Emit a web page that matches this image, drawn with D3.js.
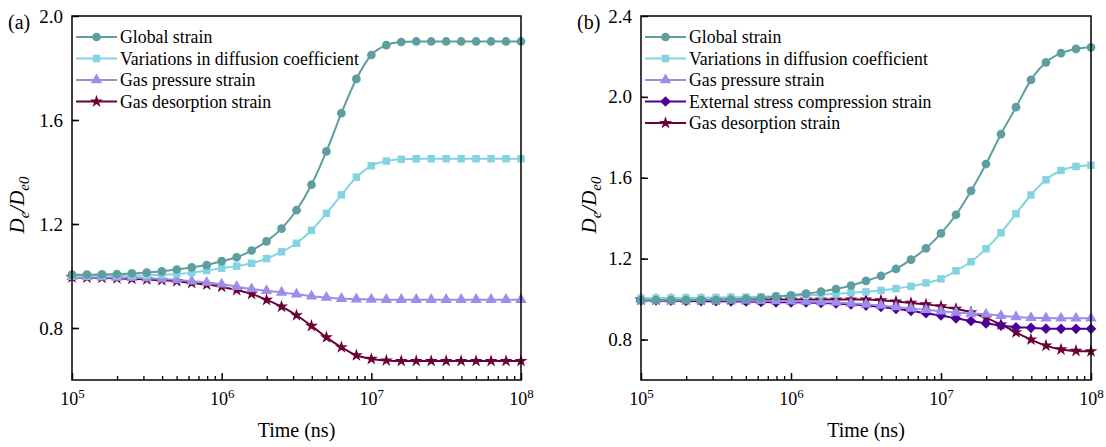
<!DOCTYPE html>
<html>
<head>
<meta charset="utf-8">
<script src="https://cdn.jsdelivr.net/npm/d3@7"></script>
<style>
  body { margin: 0; background: #fff; }
</style>
</head>
<body>
<div id="chart"></div>
<script>
// time grid, exponent of 10 (ns)
var exps = [5.0, 5.1, 5.2, 5.3, 5.4, 5.5, 5.6, 5.7, 5.8, 5.9,
            6.0, 6.1, 6.2, 6.3, 6.4, 6.5, 6.6, 6.7, 6.8, 6.9,
            7.0, 7.1, 7.2, 7.3, 7.4, 7.5, 7.6, 7.7, 7.8, 7.9, 8.0];

// panel (a)
var aGlobal = [1.005,1.005,1.006,1.007,1.010,1.013,1.018,1.025,1.033,1.042,1.057,1.072,1.098,1.133,1.182,1.253,1.351,1.479,1.626,1.758,1.850,1.888,1.900,1.902,1.902,1.902,1.902,1.902,1.902,1.902,1.902];
var aDiff   = [1.000,1.000,1.001,1.001,1.002,1.003,1.005,1.008,1.013,1.021,1.030,1.038,1.049,1.067,1.093,1.126,1.176,1.241,1.312,1.380,1.424,1.442,1.449,1.451,1.451,1.451,1.451,1.451,1.451,1.451,1.451];
var aPress  = [0.997,0.996,0.995,0.994,0.993,0.991,0.988,0.985,0.980,0.975,0.968,0.959,0.950,0.943,0.937,0.930,0.922,0.917,0.913,0.911,0.910,0.909,0.909,0.909,0.909,0.909,0.909,0.909,0.909,0.909,0.909];
var aDes    = [0.995,0.994,0.993,0.991,0.989,0.987,0.984,0.980,0.973,0.967,0.959,0.946,0.931,0.908,0.882,0.849,0.808,0.764,0.726,0.695,0.681,0.675,0.673,0.673,0.673,0.673,0.673,0.673,0.673,0.673,0.673];

// panel (b)
var bGlobal = [0.995,0.995,0.995,0.995,0.995,0.995,0.998,1.001,1.006,1.013,1.019,1.027,1.037,1.050,1.067,1.090,1.115,1.149,1.195,1.251,1.325,1.417,1.535,1.668,1.816,1.949,2.084,2.171,2.216,2.237,2.245];
var bDiff   = [1.005,1.005,1.006,1.006,1.007,1.008,1.009,1.010,1.012,1.014,1.017,1.019,1.022,1.026,1.031,1.036,1.043,1.052,1.063,1.080,1.100,1.140,1.185,1.249,1.328,1.422,1.515,1.590,1.636,1.656,1.662];
var bPress  = [0.998,0.998,0.997,0.997,0.996,0.995,0.994,0.993,0.992,0.991,0.990,0.988,0.986,0.983,0.979,0.974,0.968,0.961,0.954,0.947,0.940,0.934,0.929,0.925,0.918,0.912,0.908,0.906,0.905,0.905,0.905];
var bExt    = [0.993,0.993,0.992,0.991,0.990,0.990,0.989,0.988,0.986,0.984,0.984,0.983,0.981,0.978,0.974,0.968,0.961,0.952,0.942,0.930,0.919,0.905,0.892,0.880,0.869,0.861,0.858,0.854,0.853,0.853,0.853];
var bDes    = [0.997,0.997,0.997,0.997,0.997,0.997,0.998,0.998,0.998,0.998,0.998,0.998,0.998,0.998,0.998,0.998,0.994,0.988,0.981,0.974,0.964,0.952,0.935,0.907,0.874,0.836,0.800,0.770,0.751,0.744,0.742];

var xTicks = [1e5, 1e6, 1e7, 1e8];
var aYTicks = [0.8, 1.2, 1.6, 2.0];
var bYTicks = [0.8, 1.2, 1.6, 2.0, 2.4];

var names = {
  global: "Global strain",
  diff: "Variations in diffusion coefficient",
  press: "Gas pressure strain",
  ext: "External stress compression strain",
  des: "Gas desorption strain"
};
var styles = {
  global: {color: "#5f9ea0", sym: d3.symbolCircle, size: 60},
  diff:   {color: "#84d3e2", sym: d3.symbolSquare, size: 56},
  press:  {color: "#9d8ce8", sym: d3.symbolTriangle, size: 56},
  ext:    {color: "#4b0096", sym: d3.symbolDiamond2, size: 72},
  des:    {color: "#6b0038", sym: d3.symbolStar, size: 52}
};
var FONT = "Liberation Serif";

var svg = d3.select("#chart").append("svg").attr("width", 1106).attr("height", 447)
  .attr("font-family", FONT);

function panel(opt) {
  var x = d3.scaleLog().domain([1e5, 1e8]).range([opt.left, opt.right]);
  var y = d3.scaleLinear().domain(opt.yDomain).range([380, 16]);
  var g = svg.append("g");

  // series, drawn so Global ends on top
  opt.series.slice().reverse().forEach(function(s) {
    var st = styles[s.key];
    var pts = exps.map(function(e, i) { return [Math.pow(10, e), s.values[i]]; });
    g.append("path")
      .attr("d", d3.line().curve(d3.curveMonotoneX).x(function(d){return x(d[0]);}).y(function(d){return y(d[1]);})(pts))
      .attr("fill", "none").attr("stroke", st.color).attr("stroke-width", 2);
    g.selectAll(null).data(pts).enter().append("path")
      .attr("d", d3.symbol().type(st.sym).size(st.size))
      .attr("transform", function(d){return "translate(" + x(d[0]) + "," + y(d[1]) + ")";})
      .attr("fill", st.color);
  });

  // frame
  g.append("rect").attr("x", opt.left).attr("y", 16).attr("width", opt.right - opt.left).attr("height", 364)
    .attr("fill", "none").attr("stroke", "#000").attr("stroke-width", 1.5);

  // x axis: minor ticks
  var minor = [];
  [1e5, 1e6, 1e7].forEach(function(b){ for (var k = 2; k < 10; k++) minor.push(b * k); });
  g.append("g").attr("transform", "translate(0,380)")
    .call(d3.axisBottom(x).tickValues(minor).tickSize(-4).tickFormat(""))
    .call(function(a){ a.select(".domain").remove(); a.selectAll("line").attr("stroke-width", 1.3); });
  var xa = g.append("g").attr("transform", "translate(0,380)")
    .call(d3.axisBottom(x).tickValues(xTicks).tickSize(-7).tickPadding(12).tickFormat(""));
  xa.select(".domain").remove();
  xa.selectAll("line").attr("stroke-width", 1.5);
  xa.selectAll("text").attr("font-size", 18).attr("font-family", FONT).attr("fill", "#000")
    .each(function(d) {
      var t = d3.select(this);
      t.append("tspan").text("10");
      t.append("tspan").attr("dy", "-0.55em").attr("font-size", "0.72em").text(Math.round(Math.log10(d)));
    });

  // y axis
  var yMinor = [];
  for (var v = opt.yDomain[0] + 0.2; v < opt.yDomain[1]; v += 0.4) yMinor.push(+v.toFixed(1));
  g.append("g").attr("transform", "translate(" + opt.left + ",0)")
    .call(d3.axisLeft(y).tickValues(yMinor).tickSize(-4).tickFormat(""))
    .call(function(a){ a.select(".domain").remove(); a.selectAll("line").attr("stroke-width", 1.3); });
  var ya = g.append("g").attr("transform", "translate(" + opt.left + ",0)")
    .call(d3.axisLeft(y).tickValues(opt.yTicks).tickSize(-7).tickPadding(9).tickFormat(d3.format(".1f")));
  ya.select(".domain").remove();
  ya.selectAll("line").attr("stroke-width", 1.5);
  ya.selectAll("text").attr("font-size", 19).attr("font-family", FONT).attr("fill", "#000");

  // axis titles
  svg.append("text").attr("x", (opt.left + opt.right) / 2).attr("y", 437)
    .attr("text-anchor", "middle").attr("font-size", 20).text("Time (ns)");
  var yl = svg.append("text").attr("transform", "translate(" + opt.ylx + ",205) rotate(-90)")
    .attr("text-anchor", "middle").attr("font-size", 21).attr("font-style", "italic");
  yl.append("tspan").text("D");
  yl.append("tspan").attr("dy", 5).attr("font-size", 15).text("e");
  yl.append("tspan").attr("dy", -5).text("/D");
  yl.append("tspan").attr("dy", 5).attr("font-size", 15).text("e0");

  svg.append("text").attr("x", opt.tagX).attr("y", 29).attr("font-size", 20).text(opt.tag);

  // legend
  opt.series.forEach(function(s, i) {
    var st = styles[s.key];
    var ly = 37 + i * 21.5;
    g.append("line").attr("x1", opt.left + 4).attr("x2", opt.left + 45).attr("y1", ly).attr("y2", ly)
      .attr("stroke", st.color).attr("stroke-width", 2);
    g.append("path").attr("d", d3.symbol().type(st.sym).size(st.size))
      .attr("transform", "translate(" + (opt.left + 24.5) + "," + ly + ")").attr("fill", st.color);
    g.append("text").attr("x", opt.left + 48).attr("y", ly + 6).attr("font-size", 17.8).text(names[s.key]);
  });
}

panel({
  left: 72, right: 521, yDomain: [0.6, 2.0], yTicks: aYTicks, ylx: 24, tag: "(a)", tagX: 8,
  series: [{key: "global", values: aGlobal}, {key: "diff", values: aDiff},
           {key: "press", values: aPress}, {key: "des", values: aDes}]
});
panel({
  left: 641, right: 1091, yDomain: [0.6, 2.4], yTicks: bYTicks, ylx: 596, tag: "(b)", tagX: 577,
  series: [{key: "global", values: bGlobal}, {key: "diff", values: bDiff},
           {key: "press", values: bPress}, {key: "ext", values: bExt}, {key: "des", values: bDes}]
});
</script>
</body>
</html>
